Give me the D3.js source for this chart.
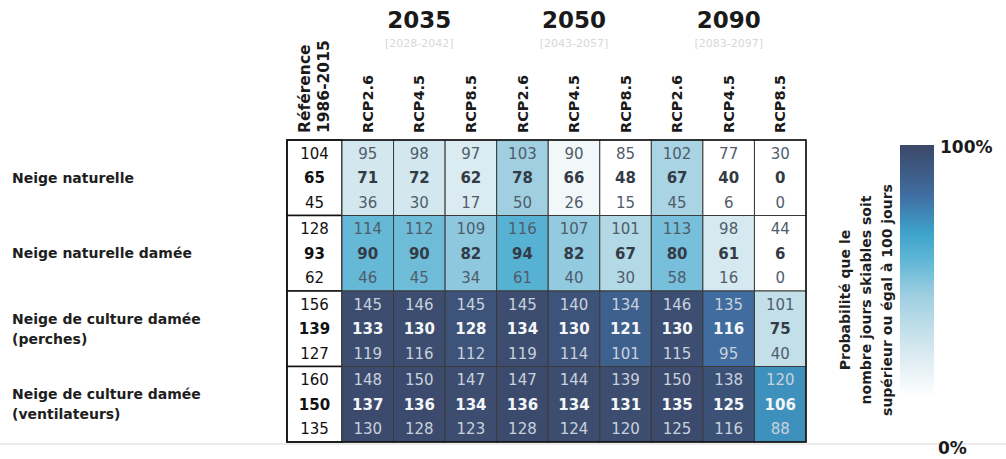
<!DOCTYPE html>
<html><head><meta charset="utf-8">
<script src="https://cdn.jsdelivr.net/npm/d3@7"></script>
<style>body{margin:0;background:#fff;}svg{display:block;font-family:"DejaVu Sans",sans-serif;}</style>
</head><body>
<svg id="c" width="1006" height="459"></svg>
<script>
const categories = ["Neige naturelle", "Neige naturelle damée", "Neige de culture damée|(perches)", "Neige de culture damée|(ventilateurs)"];
const periods = ["2035", "2050", "2090"];
const periodRanges = ["[2028-2042]", "[2043-2057]", "[2083-2097]"];
const scenarios = ["RCP2.6", "RCP4.5", "RCP8.5"];
const refLabel = ["Référence", "1986-2015"];
const refHigh = [104, 128, 156, 160];
const refMed = [65, 93, 139, 150];
const refLow = [45, 62, 127, 135];
const highValues = [
  [95, 98, 97, 103, 90, 85, 102, 77, 30],
  [114, 112, 109, 116, 107, 101, 113, 98, 44],
  [145, 146, 145, 145, 140, 134, 146, 135, 101],
  [148, 150, 147, 147, 144, 139, 150, 138, 120]
];
const medValues = [
  [71, 72, 62, 78, 66, 48, 67, 40, 0],
  [90, 90, 82, 94, 82, 67, 80, 61, 6],
  [133, 130, 128, 134, 130, 121, 130, 116, 75],
  [137, 136, 134, 136, 134, 131, 135, 125, 106]
];
const lowValues = [
  [36, 30, 17, 50, 26, 15, 45, 6, 0],
  [46, 45, 34, 61, 40, 30, 58, 16, 0],
  [119, 116, 112, 119, 114, 101, 115, 95, 40],
  [130, 128, 123, 128, 124, 120, 125, 116, 88]
];
// probability (%) that skiable days >= 100
const probability = [
  [20, 20, 17, 40, 6, 0, 36, 0, 0],
  [53, 51, 44, 57, 43, 32, 49, 18, 0],
  [97, 97, 94, 97, 94, 87, 96, 81, 26],
  [98, 98, 97, 98, 97, 97, 98, 95, 70]
];
const legendTicks = ["0%", "100%"];
const legendTitle = ["Probabilité que le", "nombre jours skiables soit", "supérieur ou égal à 100 jours"];

const svg = d3.select("#c");
const colKeys = [];
periods.forEach(p => scenarios.forEach(s => colKeys.push(p + " " + s)));

const x = d3.scaleBand().domain(colKeys).range([342, 806]);
const xRef = d3.scaleBand().domain(["ref"]).range([287, 342]);
const y = d3.scaleBand().domain(categories).range([140, 442]);
const color = d3.scaleLinear()
  .domain([0, 20, 40, 55, 65, 80, 100])
  .range(["#ffffff", "#d3e7ee", "#9fcfe1", "#5db5d5", "#3ea3cb", "#406ea2", "#3b4767"]);
const lineOff = 24.5;

// faint scan line at bottom
svg.append("line").attr("x1", 0).attr("x2", 1006).attr("y1", 444).attr("y2", 444)
  .attr("stroke", "#d8d8d8").attr("stroke-width", 1);

// year headers
periods.forEach((p, i) => {
  const x0 = x(p + " " + scenarios[0]), x1 = x(p + " " + scenarios[2]) + x.bandwidth();
  const cx = (x0 + x1) / 2;
  svg.append("text").attr("x", cx).attr("y", 28).attr("text-anchor", "middle")
    .attr("font-size", 23).attr("font-weight", "bold").attr("fill", "#1a1a1a").text(p);
  svg.append("text").attr("x", cx).attr("y", 47).attr("text-anchor", "middle")
    .attr("font-size", 11).attr("fill", "#d8d8d8").text(periodRanges[i]);
});

// column headers
const refCx = xRef("ref") + xRef.bandwidth() / 2;
refLabel.forEach((t, i) => {
  svg.append("text").attr("transform", `translate(${refCx - 9.5 + i * 19},133) rotate(-90)`)
    .attr("dy", "0.35em").attr("font-size", 15.5).attr("font-weight", "bold").attr("fill", "#1a1a1a").text(t);
});
colKeys.forEach((k, i) => {
  svg.append("text").attr("transform", `translate(${x(k) + x.bandwidth() / 2},133) rotate(-90)`)
    .attr("dy", "0.35em").attr("font-size", 14.5).attr("font-weight", "bold").attr("fill", "#1a1a1a")
    .text(scenarios[i % 3]);
});

// row labels
categories.forEach(c => {
  const parts = c.split("|");
  const cy = y(c) + y.bandwidth() / 2;
  const start = cy - (parts.length - 1) * 10;
  parts.forEach((t, j) => {
    svg.append("text").attr("x", 12).attr("y", start + j * 20).attr("dy", "0.35em")
      .attr("font-size", 14).attr("font-weight", "bold").attr("fill", "#1e1e1e").text(t);
  });
});

// reference cells
categories.forEach((c, r) => {
  const cy = y(c) + y.bandwidth() / 2;
  svg.append("rect").attr("x", xRef("ref")).attr("y", y(c)).attr("width", xRef.bandwidth()).attr("height", y.bandwidth())
    .attr("fill", "#fff").attr("stroke", "#111").attr("stroke-width", 1.5);
  [[refHigh[r], -1, "normal"], [refMed[r], 0, "bold"], [refLow[r], 1, "normal"]].forEach(([v, o, w]) => {
    svg.append("text").attr("x", refCx).attr("y", cy + o * lineOff).attr("dy", "0.35em").attr("text-anchor", "middle")
      .attr("font-size", 15).attr("font-weight", w).attr("fill", "#111").text(v);
  });
});

// data cells
categories.forEach((c, r) => {
  const cy = y(c) + y.bandwidth() / 2;
  colKeys.forEach((k, i) => {
    const p = probability[r][i];
    const cx = x(k) + x.bandwidth() / 2;
    svg.append("rect").attr("x", x(k)).attr("y", y(c)).attr("width", x.bandwidth()).attr("height", y.bandwidth())
      .attr("fill", color(p)).attr("stroke", "#3a3a3a").attr("stroke-width", 1);
    const dark = p >= 62;
    const light = dark ? "#c9d1dd" : "#4f5d6b";
    const med = dark ? "#f4f6f8" : "#333c46";
    [[highValues[r][i], -1, "normal", light], [medValues[r][i], 0, "bold", med], [lowValues[r][i], 1, "normal", light]]
      .forEach(([v, o, w, f]) => {
        svg.append("text").attr("x", cx).attr("y", cy + o * lineOff).attr("dy", "0.35em").attr("text-anchor", "middle")
          .attr("font-size", 15).attr("font-weight", w).attr("fill", f).text(v);
      });
  });
});
// outer border
svg.append("rect").attr("x", 287).attr("y", 140).attr("width", 806 - 287).attr("height", 442 - 140)
  .attr("fill", "none").attr("stroke", "#111").attr("stroke-width", 1.5);

// legend
const defs = svg.append("defs");
const grad = defs.append("linearGradient").attr("id", "lg").attr("x1", 0).attr("x2", 0).attr("y1", 1).attr("y2", 0);
color.domain().forEach(d => grad.append("stop").attr("offset", d / 100).attr("stop-color", color(d)));
const ly = d3.scaleLinear().domain([0, 100]).range([397, 145]);
svg.append("rect").attr("x", 900).attr("y", ly(100)).attr("width", 34).attr("height", ly(0) - ly(100)).attr("fill", "url(#lg)");
svg.append("text").attr("x", 940).attr("y", 147).attr("dy", "0.35em").attr("font-size", 17).attr("font-weight", "bold")
  .attr("fill", "#1a1a1a").text(legendTicks[1]);
svg.append("text").attr("x", 938).attr("y", 448).attr("dy", "0.35em").attr("font-size", 17).attr("font-weight", "bold")
  .attr("fill", "#1a1a1a").text(legendTicks[0]);
legendTitle.forEach((t, i) => {
  svg.append("text").attr("transform", `translate(${845 + i * 21},300) rotate(-90)`).attr("dy", "0.35em")
    .attr("text-anchor", "middle").attr("font-size", 14).attr("font-weight", "bold").attr("fill", "#1e1e1e").text(t);
});
</script>
</body></html>
